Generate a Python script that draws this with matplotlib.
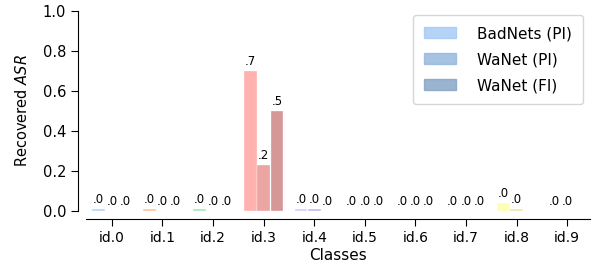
import numpy as np
import matplotlib
matplotlib.use("Agg")
import matplotlib.pyplot as plt

classes = [f"id.{i}" for i in range(10)]
methods = ["BadNets (PI)", "WaNet (PI)", "WaNet (FI)"]
badnets_pi = [0.01, 0.01, 0.01, 0.70, 0.01, 0.0, 0.0, 0.0, 0.04, 0.0]
wanet_pi   = [0.0, 0.0, 0.0, 0.23, 0.01, 0.0, 0.0, 0.0, 0.01, 0.0]
wanet_fi   = [0.0, 0.0, 0.0, 0.50, 0.0, 0.0, 0.0, 0.0, np.nan, np.nan]

# seaborn "pastel" palette, one colour per class
pastel = ["#a1c9f4", "#ffb482", "#8de5a1", "#ff9f9b", "#d0bbff",
          "#debb9b", "#fab0e4", "#cfcfcf", "#fffea3", "#b9f2f0"]
shade = [1.0, 0.9, 0.8]
ALPHA = 0.8

def darken(c, f):
    rgb = np.array(matplotlib.colors.to_rgb(c)) * f
    return tuple(rgb)

fig = plt.figure(figsize=(5.97, 2.63), dpi=100)
ax = fig.add_axes([0.1441, 0.1989, 0.8442, 0.759])

x = np.arange(len(classes))
width = 0.25
offsets = [-0.262, 0.0, 0.262]
series = [badnets_pi, wanet_pi, wanet_fi]

for k, (vals, off) in enumerate(zip(series, offsets)):
    cols = [darken(pastel[i], shade[k]) for i in range(len(classes))]
    ax.bar(x + off, np.nan_to_num(vals), width, color=cols, alpha=ALPHA,
           edgecolor="white", linewidth=0.3)
    for i, v in enumerate(vals):
        if np.isnan(v):
            continue
        txt = f"{v:.1f}".lstrip("0")
        ax.text(x[i] + off, v + 0.015, txt, ha="center", va="bottom", fontsize=8.5)

# legend handles in blue shades
handles = [matplotlib.patches.Patch(color=darken(pastel[0], s), alpha=ALPHA) for s in shade]
ax.legend(handles, methods, loc="upper right", fontsize=11, labelspacing=0.72,
          handlelength=2.1, handletextpad=1.35, borderpad=0.72, borderaxespad=0,
          bbox_to_anchor=(0.986, 0.98))

ax.set_xlim(-0.51, 9.45)
ax.set_ylim(0, 1.0)
ax.set_xticks(x)
ax.set_xticklabels(classes, fontsize=11.5)
ax.set_yticks([0.0, 0.2, 0.4, 0.6, 0.8, 1.0])
ax.tick_params(axis="y", labelsize=10.5, length=5)
ax.tick_params(axis="x", length=5, pad=4)
ax.set_ylabel("Recovered $ASR$", fontsize=10.5, labelpad=9)
ax.set_xlabel("Classes", fontsize=11, labelpad=2)

ax.spines["top"].set_visible(False)
ax.spines["right"].set_visible(False)
ax.spines["left"].set_position(("outward", 5.8))
ax.spines["bottom"].set_position(("outward", 5.8))

plt.savefig("out.png", dpi=100)
